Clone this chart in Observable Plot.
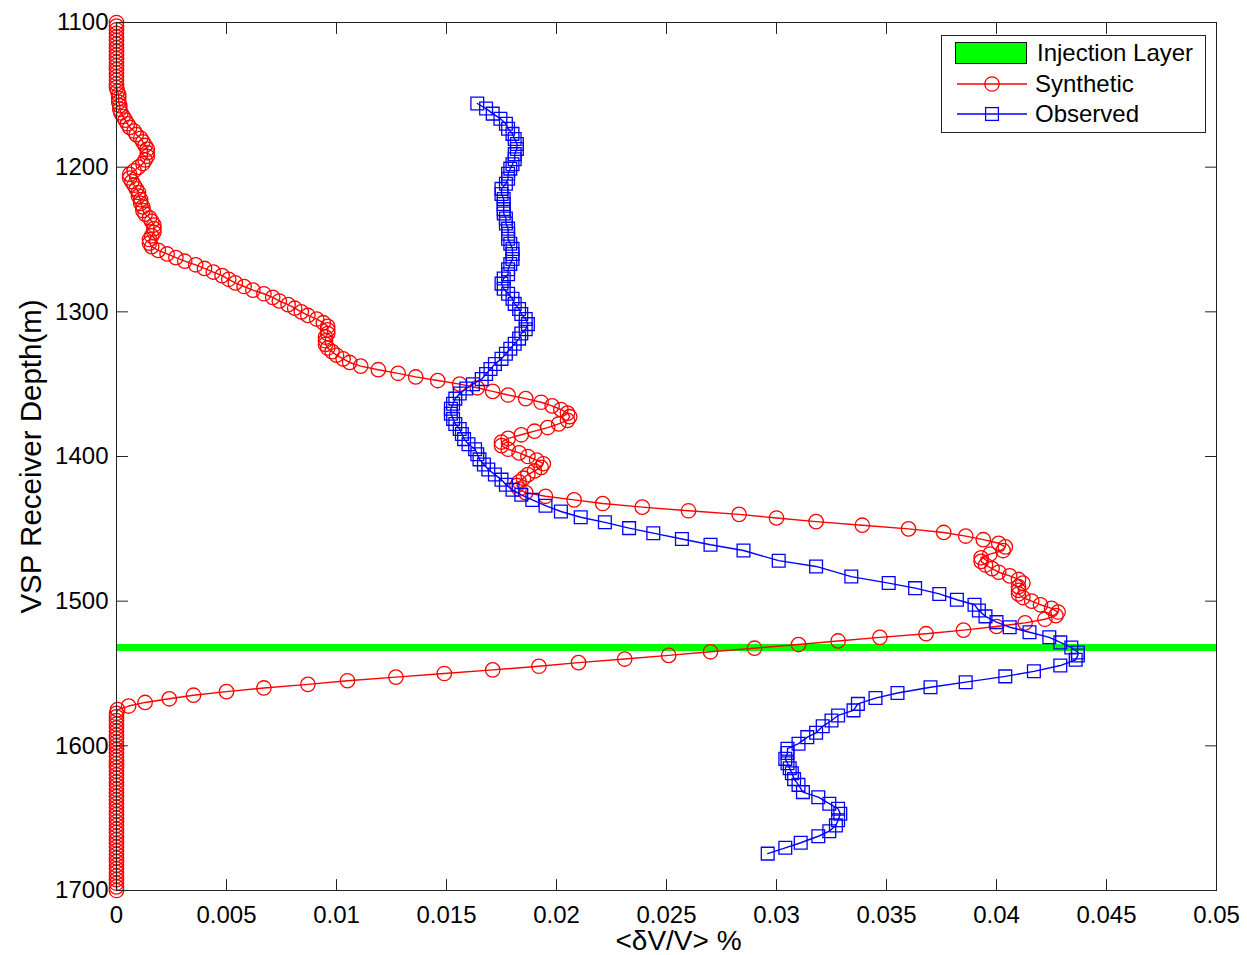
<!DOCTYPE html>
<html>
<head>
<meta charset="utf-8">
<script src="https://cdn.jsdelivr.net/npm/d3@7"></script>
<script src="https://cdn.jsdelivr.net/npm/@observablehq/plot@0.6"></script>
<style>
  body { margin: 0; background: #fff; }
  #chart { width: 1247px; height: 955px; }
</style>
</head>
<body>
<div id="chart"></div>
<script>
// ---------- data ----------
const synthDepth = [
  1100,1102.5,1105,1107.5,1110,1112.5,1115,1117.5,1120,1122.5,1125,1127.5,1130,1132.5,1135,1137.5,1140,1142.5,1145,
  1147.5,1150,1152.5,1155,1157.5,1160,1162.5,1165,1167.5,1170,1172.5,1175,1177.5,1180,1182.5,1185,1187.5,1190,1192.5,1195,1197.5,
  1200,1202.5,1205,1207.5,1210,1212.5,1215,1217.5,1220,1222.5,1225,1227.5,1230,1232.5,1235,1237.5,1240,1242.5,1245,1247.5,
  1250,1252.5,1255,1257.5,1260,1262.5,1265,1267.5,1270,1272.5,1275,1277.5,1280,1282.5,1285,1287.5,1290,1292.5,1295,1297.5,
  1300,1302.5,1305,1307.5,1310,1312.5,1315,1317.5,1320,1322.5,1325,1327.5,1330,1332.5,1335,1337.5,1340,1342.5,1345,1347.5,
  1350,1352.5,1355,1357.5,1360,1362.5,1365,1367.5,1370,1372.5,1375,1377.5,1380,1382.5,1385,1387.5,1390,1392.5,1395,1397.5,
  1400,1402.5,1405,1407.5,1410,1412.5,1415,1417.5,1420,1422.5,1425,1427.5,1430,1432.5,1435,1437.5,1440,1442.5,1445,1447.5,
  1450,1452.5,1455,1457.5,1460,1462.5,1465,1467.5,1470,1472.5,1475,1477.5,1480,1482.5,1485,1487.5,1490,1492.5,1495,1497.5,
  1500,1502.5,1505,1507.5,1510,1512.5,1515,1517.5,1520,1522.5,1525,1527.5,1530,1532.5,1535,1537.5,1540,1542.5,1545,1547.5,
  1550,1552.5,1555,1557.5,1560,1562.5,1565,1567.5,1570,1572.5,1575,1577.5,1580,1582.5,1585,1587.5,1590,1592.5,1595,1597.5,
  1600,1602.5,1605,1607.5,1610,1612.5,1615,1617.5,1620,1622.5,1625,1627.5,1630,1632.5,1635,1637.5,1640,1642.5,1645,1647.5,
  1650,1652.5,1655,1657.5,1660,1662.5,1665,1667.5,1670,1672.5,1675,1677.5,1680,1682.5,1685,1687.5,1690,1692.5,1695,1697.5,1700
];
const synthValue = [
  0,0,0,0,0,0,0,0,0,0,0,0,0,0,0,0,0,0,0,
  0.00005,0.0001,0.0001,0.0001,0.00015,0.00015,0.0002,0.0003,0.0004,0.0005,0.0006,0.0008,0.0009,0.0011,0.0012,0.0013,0.0014,0.0014,0.0014,0.0013,0.0012,
  0.001,0.0008,0.0006,0.0006,0.0007,0.0008,0.0009,0.001,0.001,0.0011,0.0011,0.0012,0.0012,0.0013,0.0015,0.0016,0.0017,0.0017,0.0017,0.0016,
  0.0015,0.0015,0.0016,0.0019,0.0023,0.0027,0.0031,0.0036,0.004,0.0044,0.0048,0.0051,0.0054,0.0058,0.0062,0.0067,0.0071,0.0074,0.0078,0.0081,
  0.0084,0.0087,0.0091,0.0094,0.0096,0.0096,0.0096,0.0095,0.0095,0.0095,0.0096,0.0098,0.01,0.0103,0.0106,0.0111,0.0119,0.0128,0.0136,0.0146,
  0.0156,0.0164,0.0171,0.0178,0.0186,0.0193,0.0198,0.0202,0.0205,0.0206,0.0205,0.0201,0.0196,0.019,0.0184,0.0178,0.0175,0.0175,0.0178,0.0183,
  0.0187,0.0191,0.0194,0.0193,0.019,0.0187,0.0185,0.0183,0.0182,0.0183,0.0186,0.0195,0.0208,0.0221,0.0239,0.026,0.0283,0.03,0.0318,0.0339,
  0.036,0.0376,0.0386,0.0394,0.0401,0.0404,0.0403,0.0397,0.0393,0.0393,0.0395,0.0398,0.0401,0.0406,0.041,0.0412,0.041,0.041,0.041,0.0412,
  0.0416,0.042,0.0425,0.0428,0.0427,0.0422,0.0413,0.04,0.0385,0.0368,0.0347,0.0328,0.031,0.029,0.027,0.0251,0.0231,0.021,0.0192,0.0171,
  0.0149,0.0127,0.0105,0.0087,0.0067,0.005,0.0035,0.0024,0.0013,0.00055,0.00005,0,0,0,0,0,0,0,0,0,
  0,0,0,0,0,0,0,0,0,0,0,0,0,0,0,0,0,0,0,0,
  0,0,0,0,0,0,0,0,0,0,0,0,0,0,0,0,0,0,0,0,0
];
const obsDepth = [
  1156,1159.5,1163,1166.5,1170,1173.5,1177,1180.5,1184,1187.5,1191,1194.5,1198,1201,1204.5,1208,1211.5,1215,1218.5,1222,
  1225.5,1229,1232,1235.5,1239,1242.5,1246,1249.5,1253,1256.5,1260,1263.5,1267,1270.5,1274,1277,1280.5,1284,1287.5,1291,
  1294.5,1298,1301.5,1305,1308.5,1312,1315,1318.5,1322,1325.5,1329,1332.5,1336,1339.5,1343,1346.5,1350,1353,1356.5,1360,
  1363.5,1367,1370.5,1374,1377.5,1381,1384.5,1388,1391.5,1395,1398.5,1402,1405.5,1409,1412.5,1416,1419.5,1423,1426.5,1430,
  1434,1438,1442,1445.5,1449.5,1453,1457,1461,1465,1472,1476,1483,1487.5,1491,1495,1499,1502.5,1506.5,1510.5,1514.5,
  1518,1521.5,1525,1528.5,1532,1535.5,1537.5,1540.5,1544.5,1548.5,1552,1556,1559.5,1563.5,1567,1571,1575.5,1579,1582.5,1586.5,
  1591,1594,1598.5,1602,1605,1609,1612,1615.5,1619,1623,1627,1632,1635.5,1640,1643.5,1647,1651.5,1655,1659,1662.5,
  1667,1670.5,1674.5
];
const obsValue = [
  0.0164,0.0168,0.0171,0.01745,0.0177,0.0178,0.018,0.0181,0.0182,0.0182,0.0181,0.0181,0.018,0.0179,0.0178,0.0178,0.0177,0.0175,0.0175,0.0176,
  0.0176,0.0176,0.0176,0.0177,0.0177,0.0178,0.0178,0.0178,0.0179,0.018,0.018,0.018,0.0179,0.0178,0.0178,0.0176,0.0175,0.0176,0.0178,0.018,
  0.0181,0.0183,0.0184,0.0186,0.0187,0.0186,0.0184,0.0183,0.0181,0.0179,0.0177,0.0175,0.0172,0.017,0.0168,0.0166,0.0162,0.0159,0.0156,0.0154,
  0.0153,0.0152,0.0152,0.0153,0.0154,0.0156,0.0157,0.0158,0.016,0.0163,0.0164,0.0165,0.0167,0.0169,0.0172,0.0175,0.0177,0.018,0.0184,0.0189,
  0.0195,0.0202,0.0211,0.0222,0.0233,0.0244,0.0257,0.027,0.0285,0.0301,0.0318,0.0334,0.0351,0.0363,0.0374,0.0382,0.039,0.0392,0.0395,0.04,
  0.0406,0.0415,0.0424,0.0429,0.0434,0.0437,0.0437,0.0436,0.0429,0.0417,0.0404,0.0386,0.037,0.0355,0.0345,0.0337,0.0335,0.0328,0.0325,0.0321,
  0.0318,0.0314,0.031,0.0305,0.0305,0.0304,0.0305,0.0306,0.0307,0.0308,0.031,0.0312,0.0319,0.0324,0.0328,0.0329,0.0328,0.0327,0.0324,0.0319,
  0.0311,0.0304,0.0296
];
const injectionDepth = [1532];
const xTicks = [0, 0.005, 0.01, 0.015, 0.02, 0.025, 0.03, 0.035, 0.04, 0.045, 0.05];
const yTicks = [1100, 1200, 1300, 1400, 1500, 1600, 1700];
const xLabel = "<δV/V> %";
const yLabel = "VSP Receiver Depth(m)";
const seriesNames = ["Injection Layer", "Synthetic", "Observed"];
const seriesColors = ["#00ff00", "#ff0000", "#0000ff"];

// ---------- build ----------
const synth = synthDepth.map((d, i) => ({depth: d, value: synthValue[i]}));
const obs = obsDepth.map((d, i) => ({depth: d, value: obsValue[i]}));
const axisColor = "#222";
const font = "'Liberation Sans', Arial, Helvetica, sans-serif";
const tickShape = {draw(ctx, l) { ctx.moveTo(0, 0); ctx.lineTo(0, -l); }};
const tickOpts = {length: 11, anchor: "start", shape: tickShape, stroke: axisColor, strokeWidth: 1};

const svg = Plot.plot({
  width: 1247,
  height: 955,
  marginLeft: 116,
  marginRight: 31,
  marginTop: 22,
  marginBottom: 65,
  style: {fontFamily: font, fontSize: "24px", background: "white", color: "black"},
  x: {domain: [0, 0.05]},
  y: {domain: [1100, 1700], reverse: true},
  marks: [
    Plot.ruleY(injectionDepth, {y: d => d, stroke: seriesColors[0], strokeWidth: 7}),
    Plot.line(synth, {x: "value", y: "depth", stroke: seriesColors[1], strokeWidth: 1.4}),
    Plot.dot(synth, {x: "value", y: "depth", r: 7.2, stroke: seriesColors[1], strokeWidth: 1.3, fill: "none"}),
    Plot.line(obs, {x: "value", y: "depth", stroke: seriesColors[2], strokeWidth: 1.4}),
    Plot.dot(obs, {x: "value", y: "depth", symbol: "square", r: 7.2, stroke: seriesColors[2], strokeWidth: 1.3, fill: "none"}),
    Plot.frame({stroke: axisColor, strokeWidth: 1}),
    Plot.vector(xTicks, {x: d => d, frameAnchor: "bottom", rotate: 0, ...tickOpts}),
    Plot.vector(xTicks, {x: d => d, frameAnchor: "top", rotate: 180, ...tickOpts}),
    Plot.vector(yTicks, {y: d => d, frameAnchor: "left", rotate: 90, ...tickOpts}),
    Plot.vector(yTicks, {y: d => d, frameAnchor: "right", rotate: -90, ...tickOpts}),
    Plot.axisX(xTicks, {anchor: "bottom", tickSize: 0, tickPadding: 15, tickFormat: d3.format("~g"), label: null, fontSize: 24, fill: "black"}),
    Plot.axisY(yTicks, {anchor: "left", tickSize: 0, tickPadding: 8, tickFormat: d => String(d), label: null, fontSize: 24, fill: "black"}),
    Plot.text([xLabel], {text: d => d, frameAnchor: "bottom", dy: 51, dx: 12, fontSize: 28, fill: "black", lineAnchor: "middle", textAnchor: "middle"}),
    Plot.text([yLabel], {text: d => d, frameAnchor: "left", dx: -85, rotate: -90, fontSize: 29.5, fill: "black", lineAnchor: "middle", textAnchor: "middle"})
  ]
});

// ---------- legend (inside plot, top-right) ----------
const s = d3.select(svg);
const lg = s.append("g").attr("font-family", font).attr("font-size", 24).attr("text-anchor", "start");
lg.append("rect").attr("x", 941.5).attr("y", 35.5).attr("width", 264).attr("height", 97)
  .attr("fill", "white").attr("stroke", axisColor).attr("stroke-width", 1);
const rows = [53, 84, 114];
// Injection layer swatch
lg.append("rect").attr("x", 955.5).attr("y", 42.5).attr("width", 71).attr("height", 21)
  .attr("fill", seriesColors[0]).attr("stroke", "#111").attr("stroke-width", 1);
// Synthetic
lg.append("line").attr("x1", 957).attr("x2", 1027).attr("y1", rows[1]).attr("y2", rows[1])
  .attr("stroke", seriesColors[1]).attr("stroke-width", 1.4);
lg.append("circle").attr("cx", 992).attr("cy", rows[1]).attr("r", 7.2)
  .attr("fill", "none").attr("stroke", seriesColors[1]).attr("stroke-width", 1.3);
// Observed
lg.append("line").attr("x1", 957).attr("x2", 1027).attr("y1", rows[2]).attr("y2", rows[2])
  .attr("stroke", seriesColors[2]).attr("stroke-width", 1.4);
lg.append("rect").attr("x", 985.6).attr("y", rows[2] - 6.4).attr("width", 12.8).attr("height", 12.8)
  .attr("fill", "none").attr("stroke", seriesColors[2]).attr("stroke-width", 1.3);
seriesNames.forEach((name, i) => {
  lg.append("text").attr("x", i === 0 ? 1037 : 1035).attr("y", rows[i]).attr("dy", "0.35em")
    .attr("text-anchor", "start").attr("fill", "black").text(name);
});

document.getElementById("chart").appendChild(svg);
</script>
</body>
</html>
